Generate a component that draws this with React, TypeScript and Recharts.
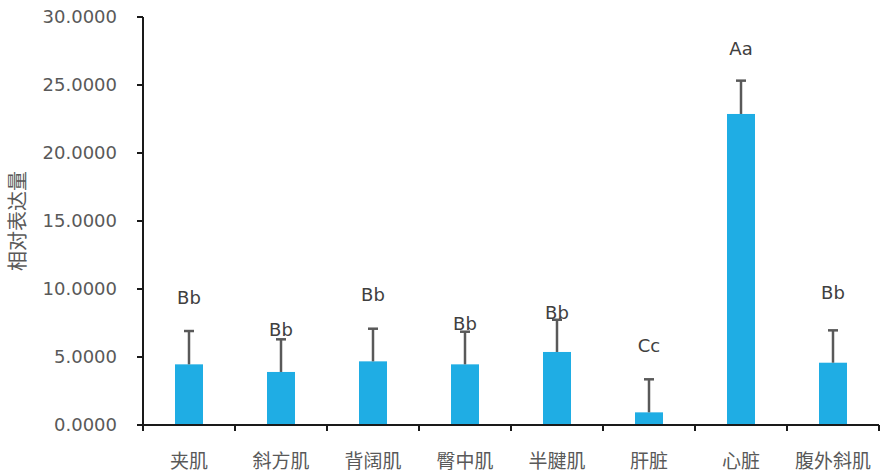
import {ComposedChart, Bar, Line, XAxis, YAxis, LabelList} from "recharts";

const categories = ["夹肌", "斜方肌", "背阔肌", "臀中肌", "半腱肌", "肝脏", "心脏", "腹外斜肌"];
const means = [4.46, 3.9, 4.68, 4.46, 5.37, 0.93, 22.87, 4.58];
const errors = [2.45, 2.4, 2.4, 2.4, 2.37, 2.43, 2.45, 2.38];
const letters = ["Bb", "Bb", "Bb", "Bb", "Bb", "Cc", "Aa", "Bb"];
// where the significance letters sit, in axis units
const letterAt = [9.41, 6.99, 9.63, 7.43, 8.24, 5.88, 27.72, 9.71];
const yTicks = [0, 5, 10, 15, 20, 25, 30];

const W = 886;
const H = 472;
const Y_AXIS_W = 143;
const MARGIN = {top: 17, right: 7, bottom: 0, left: 0};
const BAND = (W - Y_AXIS_W - MARGIN.left - MARGIN.right) / categories.length;

const AXIS = "#1a1a1a";
const TEXT = "#595959";
const BAR = "#1FADE4";
const ERR = "#595959";

const data = categories.map((name, i) => ({
    name,
    mean: means[i],
    err: errors[i],
    letter: letters[i],
    letterAt: letterAt[i],
}));

interface ShapeProps {
    x?: number;
    y?: number;
    width?: number;
    height?: number;
    payload?: { mean: number; err: number };
}

// bar + plus-only error bar, like Excel draws it
const BarWithError = ({x = 0, y = 0, width = 0, height = 0, payload}: ShapeProps) => {
    if (!payload || !payload.mean) return null;
    const perUnit = height / payload.mean;
    const top = y - payload.err * perUnit;
    const cx = x + width / 2;
    return (
        <g>
            <rect x={x} y={y} width={width} height={height} fill={BAR}/>
            <line x1={cx} y1={y} x2={cx} y2={top} stroke={ERR} strokeWidth={2.5}/>
            <line x1={cx - 5} y1={top} x2={cx + 5} y2={top} stroke={ERR} strokeWidth={2.5}/>
        </g>
    );
};

interface TickProps {
    x?: number;
    y?: number;
    payload?: { value: string };
}

const CategoryTick = ({x = 0, y = 0, payload}: TickProps) => {
    const half = BAND / 2;
    const isLast = payload?.value === categories[categories.length - 1];
    return (
        <g>
            <line x1={x - half} y1={y} x2={x - half} y2={y + 6} stroke={AXIS} strokeWidth={2}/>
            {isLast && <line x1={x + half} y1={y} x2={x + half} y2={y + 6} stroke={AXIS} strokeWidth={2}/>}
            <text
                x={x}
                y={y + 34}
                textAnchor="middle"
                dominantBaseline="central"
                fill={TEXT}
                fontSize={19}
                fontFamily="'Noto Sans CJK SC', sans-serif"
            >
                {payload?.value}
            </text>
        </g>
    );
};

interface LetterProps {
    x?: number;
    y?: number;
    value?: string | number;
}

const LetterLabel = ({x, y, value}: LetterProps) => {
    if (x === undefined || y === undefined) return null;
    return (
        <text
            x={x}
            y={y}
            textAnchor="middle"
            dominantBaseline="central"
            fill="#404040"
            fontSize={18}
            fontFamily="'DejaVu Sans', sans-serif"
        >
            {value}
        </text>
    );
};

const App = () => {
    return (
        <div style={{position: "absolute", left: 0, top: 0, width: W, height: H, background: "#fff"}}>
            <ComposedChart width={W} height={H} data={data} margin={MARGIN}>
                <XAxis
                    dataKey="name"
                    interval={0}
                    height={H - 425 - MARGIN.bottom}
                    axisLine={{stroke: AXIS, strokeWidth: 2}}
                    tickLine={false}
                    tickSize={0}
                    tickMargin={0}
                    tick={<CategoryTick/>}
                />
                <YAxis
                    width={Y_AXIS_W}
                    domain={[0, 30]}
                    ticks={yTicks}
                    tickFormatter={(v: number) => v.toFixed(4)}
                    axisLine={{stroke: AXIS, strokeWidth: 2}}
                    tickLine={{stroke: AXIS, strokeWidth: 2}}
                    tickSize={6}
                    tickMargin={20}
                    tick={{fill: TEXT, fontSize: 18, fontFamily: "'DejaVu Sans', sans-serif"}}
                    label={{
                        value: "相对表达量",
                        content: ({viewBox}: { viewBox?: { y: number; height: number } }) => {
                            const cy = viewBox ? viewBox.y + viewBox.height / 2 : 221;
                            return (
                                <text
                                    x={16}
                                    y={cy}
                                    transform={`rotate(-90 16 ${cy})`}
                                    textAnchor="middle"
                                    dominantBaseline="central"
                                    fill={TEXT}
                                    fontSize={20}
                                    fontFamily="'Noto Sans CJK SC', sans-serif"
                                >
                                    相对表达量
                                </text>
                            );
                        },
                    }}
                />
                <Bar dataKey="mean" barSize={28} fill={BAR} shape={<BarWithError/>} isAnimationActive={false}/>
                <Line
                    dataKey="letterAt"
                    stroke="none"
                    dot={false}
                    activeDot={false}
                    legendType="none"
                    isAnimationActive={false}
                >
                    <LabelList dataKey="letter" content={<LetterLabel/>}/>
                </Line>
            </ComposedChart>
        </div>
    );
};

export default App;
